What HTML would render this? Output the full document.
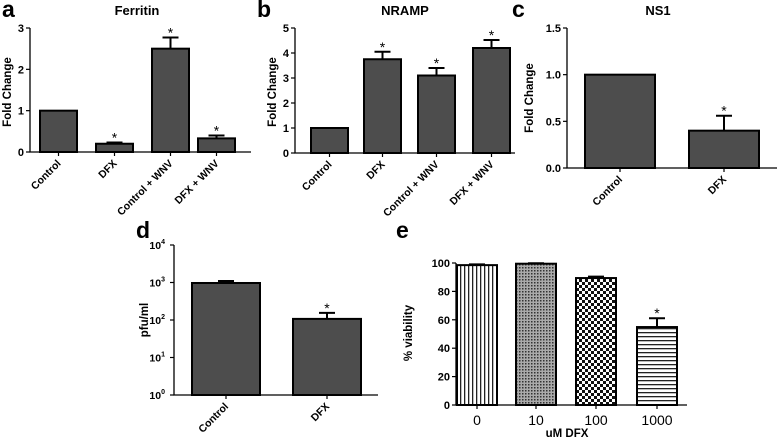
<!DOCTYPE html>
<html><head><meta charset="utf-8"><style>
html,body{margin:0;padding:0;background:#fff;}
svg{display:block;font-family:"Liberation Sans",Arial,sans-serif;font-weight:bold;}
</style></head><body>
<svg id="fig" width="778" height="441" viewBox="0 0 778 441" xmlns="http://www.w3.org/2000/svg">
<defs>
<pattern id="pVert" width="4" height="4" patternUnits="userSpaceOnUse"><rect width="4" height="4" fill="#fff"/><rect width="1.3" height="4" fill="#222"/></pattern>
<pattern id="pDots" width="3" height="3" patternUnits="userSpaceOnUse"><rect width="3" height="3" fill="#aaa"/><rect width="1.5" height="1.5" fill="#333"/></pattern>
<pattern id="pCheck" width="6" height="6" patternUnits="userSpaceOnUse"><rect width="6" height="6" fill="#fff"/><rect width="3" height="3" fill="#111"/><rect x="3" y="3" width="3" height="3" fill="#111"/></pattern>
<pattern id="pHorz" width="4" height="4" patternUnits="userSpaceOnUse"><rect width="4" height="4" fill="#fff"/><rect width="4" height="1.3" fill="#222"/></pattern>
</defs>
</svg>
<script>
// Panel a: Ferritin
const ferritinCategories = ["Control","DFX","Control + WNV","DFX + WNV"];
const ferritinValues = [1, 0.2, 2.5, 0.33];
const ferritinErrors = [0, 0.03, 0.27, 0.07];
const ferritinStars = [false, true, true, true];
const ferritinTicks = [0,1,2,3];
// Panel b: NRAMP
const nrampCategories = ["Control","DFX","Control + WNV","DFX + WNV"];
const nrampValues = [1, 3.75, 3.1, 4.2];
const nrampErrors = [0, 0.3, 0.3, 0.32];
const nrampStars = [false, true, true, true];
const nrampTicks = [0,1,2,3,4,5];
// Panel c: NS1
const ns1Categories = ["Control","DFX"];
const ns1Values = [1, 0.4];
const ns1Errors = [0, 0.16];
const ns1Stars = [false, true];
const ns1Ticks = [0, 0.5, 1.0, 1.5];
const ns1TickLabels = ["0.0","0.5","1.0","1.5"];
// Panel d: pfu/ml (log)
const pfuCategories = ["Control","DFX"];
const pfuValues = [970, 107];
const pfuErrorTops = [1100, 155];
const pfuStars = [false, true];
const pfuTicks = [0,1,2,3,4];
// Panel e: viability
const viabCategories = ["0","10","100","1000"];
const viabValues = [98.5, 99.5, 89.4, 54.9];
const viabErrors = [0.5, 0.3, 1.0, 6.2];
const viabStars = [false, false, false, true];
const viabTicks = [0,20,40,60,80,100];

const NS = "http://www.w3.org/2000/svg";
const svg = document.getElementById('fig');
function mk(tag, attrs, parent, text){
  const e = document.createElementNS(NS, tag);
  for (const k in attrs) e.setAttribute(k, attrs[k]);
  if (text !== undefined) e.textContent = text;
  (parent || svg).appendChild(e);
  return e;
}

function panel(o){
  const g = mk('g', {});
  
  
  const yS = v => o.y0 - (o.tr(v) - o.tr(o.min)) / (o.tr(o.max) - o.tr(o.min)) * (o.y0 - o.y1);
  const L = mk('text', {x:o.letterX, y:o.letterY, 'font-size':23, fill:'#000'}, g, o.letter);
  
  
  if (o.title){
    const t = mk('text', {x:o.titleX, y:15, 'font-size':13, 'text-anchor':'middle'}, g, o.title);
    
    
  }
  const yt = mk('text', {x:o.ytX, y:o.ytY, 'font-size':11.5, 'text-anchor':'middle', transform:`rotate(-90 ${o.ytX} ${o.ytY})`}, g, o.yTitle);
  
  
  o.values.forEach((v, i) => {
    const x0 = o.barX[i], w = o.barW;
    const top = yS(v);
    const et = o.errTop(i);
    if (et !== null){
      const ey = yS(et), cx = x0 + w/2;
      const el = mk('path', {d:`M${cx} ${top} V${ey} M${cx-8} ${ey} H${cx+8}`, stroke:'#000', 'stroke-width':2, fill:'none'}, g);
      
      
    }
    const r = mk('rect', {x:x0, y:top, width:w, height:o.y0-top, fill:o.fills ? o.fills[i] : '#4d4d4d', stroke:'#000', 'stroke-width':2}, g);
    
    
    if (o.stars[i]){
      const sy = (et !== null ? yS(et) : top) - 5;
      const s = mk('text', {x:x0+w/2, y:sy+5, 'font-size':14, 'font-weight':'normal', 'text-anchor':'middle'}, g, '*');
      
      
    }
    const cx = x0 + w/2;
    mk('line', {x1:cx, y1:o.y0, x2:cx, y2:o.y0+4, stroke:'#000', 'stroke-width':1.2}, g);
    let lab;
    if (o.rotate){
      lab = mk('text', {x:cx+3, y:o.y0+12, 'font-size':10.5, 'text-anchor':'end', transform:`rotate(-45 ${cx+3} ${o.y0+12})`}, g, o.cats[i]);
    } else {
      lab = mk('text', {x:cx, y:o.y0+20, 'font-size':14, 'font-weight':'normal', 'text-anchor':'middle'}, g, o.cats[i]);
    }
    
    
  });
  const ax = mk('path', {d:`M${o.ax} ${o.y1} V${o.y0} H${o.axEnd}`, stroke:'#000', 'stroke-width':1.3, fill:'none'}, g);
  
  
  o.ticks.forEach((t, i) => {
    const y = yS(t);
    mk('line', {x1:o.ax-4, y1:y, x2:o.ax, y2:y, stroke:'#000', 'stroke-width':1.2}, g);
    const lbl = o.tickLabels ? o.tickLabels[i] : String(t);
    let tl;
    if (o.log){
      tl = mk('text', {x:o.ax-9, y:y+4, 'font-size':10.5, 'text-anchor':'end'}, g, '10');
      mk('tspan', {dy:-5, 'font-size':7}, tl, lbl);
    } else {
      tl = mk('text', {x:o.ax-6, y:y+4, 'font-size':o.tickFont||11, 'text-anchor':'end'}, g, lbl);
    }
    
    
  });
  return g;
}
const lin = v => v;
panel({name:'panel-a-ferritin', letter:'a', letterX:2, letterY:17, title:'Ferritin', titleX:137,
  yTitle:'Fold Change', ytX:11, ytY:92, ax:30, axEnd:251, y0:152, y1:28, min:0, max:3, tr:lin,
  ticks:ferritinTicks, values:ferritinValues, cats:ferritinCategories, stars:ferritinStars,
  barX:[40,96,152,198], barW:37, rotate:true, errTop:i => ferritinErrors[i] ? ferritinValues[i]+ferritinErrors[i] : null});
panel({name:'panel-b-nramp', letter:'b', letterX:257, letterY:17, title:'NRAMP', titleX:405,
  yTitle:'Fold Change', ytX:276, ytY:92, ax:295, axEnd:515, y0:153, y1:28, min:0, max:5, tr:lin,
  ticks:nrampTicks, values:nrampValues, cats:nrampCategories, stars:nrampStars,
  barX:[311,364,418,473], barW:37, rotate:true, errTop:i => nrampErrors[i] ? nrampValues[i]+nrampErrors[i] : null});
panel({name:'panel-c-ns1', letter:'c', letterX:512, letterY:17, title:'NS1', titleX:658,
  yTitle:'Fold Change', ytX:533, ytY:98, ax:567, axEnd:777, y0:168, y1:28, min:0, max:1.5, tr:lin,
  ticks:ns1Ticks, tickLabels:ns1TickLabels, values:ns1Values, cats:ns1Categories, stars:ns1Stars,
  barX:[585,689], barW:70, rotate:true, errTop:i => ns1Errors[i] ? ns1Values[i]+ns1Errors[i] : null});
panel({name:'panel-d-pfu', letter:'d', letterX:136, letterY:238, title:null,
  yTitle:'pfu/ml', ytX:148, ytY:320, ax:174, axEnd:378, y0:395, y1:245, min:1, max:10000, tr:v => Math.log10(v), log:true,
  ticks:pfuTicks.map(p => Math.pow(10,p)), tickLabels:pfuTicks.map(String), values:pfuValues, cats:pfuCategories, stars:pfuStars,
  barX:[192,293], barW:68, rotate:true, errTop:i => pfuErrorTops[i]});
const eg = panel({name:'panel-e-viability', letter:'e', letterX:396, letterY:238, title:null,
  yTitle:'% viability', ytX:412, ytY:333, ax:456, axEnd:687, y0:405, y1:263, min:0, max:100, tr:lin,
  ticks:viabTicks, values:viabValues, cats:viabCategories, stars:viabStars, rotate:false,
  fills:['url(#pVert)','url(#pDots)','url(#pCheck)','url(#pHorz)'],
  barX:[457,516,576,637], barW:40, errTop:i => viabValues[i]+viabErrors[i]});
const xt = mk('text', {x:567, y:437, 'font-size':11.5, 'text-anchor':'middle'}, eg, 'uM DFX');


</script>
</body></html>
